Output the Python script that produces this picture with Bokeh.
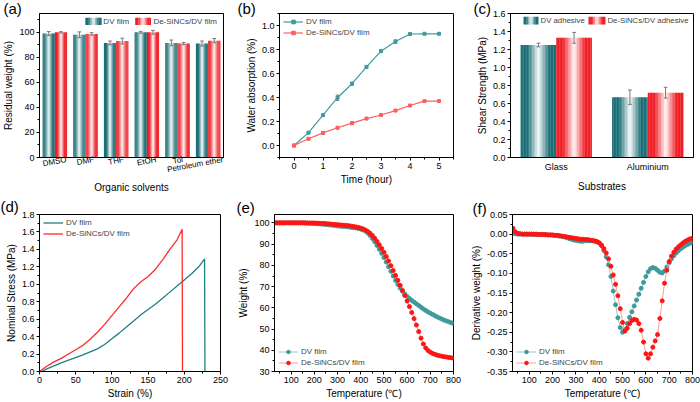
import math
from bokeh.plotting import figure
from bokeh.models import (Range1d, FixedTicker, Label, Legend, LegendItem,
                          NumeralTickFormatter)
from bokeh.layouts import row, column
from bokeh.embed import file_html
from bokeh.resources import INLINE

FONT = "Liberation Sans"

# ---------------- (a) residual weight ----------------
solvents = ["DMSO", "DMF", "THF", "EtOH", "Tol", "Petroleum ether"]
a_dv = [99.0, 98.0, 91.5, 100.0, 91.5, 91.0]
a_dv_err = [1.6, 2.3, 1.5, 0.7, 2.3, 2.0]
a_de = [100.0, 98.7, 93.0, 100.0, 91.0, 93.3]
a_de_err = [0.5, 1.0, 2.3, 1.5, 0.9, 1.7]

# ---------------- (b) water absorption ----------------
b_time = [0, 0.5, 1, 1.5, 2, 2.5, 3, 3.5, 4, 4.5, 5]
b_dv = [0.0, 0.107, 0.253, 0.398, 0.515, 0.655, 0.786, 0.866, 0.929, 0.931, 0.931]
b_dv_err = [0.0, 0.004, 0.006, 0.022, 0.012, 0.008, 0.01, 0.014, 0.004, 0.004, 0.004]
b_de = [0.0, 0.056, 0.105, 0.148, 0.186, 0.224, 0.254, 0.291, 0.333, 0.370, 0.370]
b_de_err = [0.0, 0.004, 0.012, 0.006, 0.01, 0.006, 0.005, 0.005, 0.005, 0.005, 0.005]

# ---------------- (c) shear strength ----------------
substrates = ["Glass", "Aluminium"]
c_dv = [1.25, 0.67]
c_dv_err = [0.02, 0.08]
c_de = [1.33, 0.72]
c_de_err = [0.06, 0.06]

# ---------------- (d) stress-strain ----------------
d_dv_strain = [3, 10, 20, 30, 40, 50, 60, 70, 80, 90, 100, 110, 120, 130, 140,
               150, 160, 170, 180, 190, 200, 210, 220, 228, 228.5]
d_dv_stress = [0.0, 0.03, 0.065, 0.1, 0.13, 0.16, 0.19, 0.225, 0.26, 0.31, 0.375,
               0.44, 0.51, 0.58, 0.65, 0.71, 0.77, 0.84, 0.91, 0.98, 1.05, 1.12,
               1.2, 1.29, 0.0]
d_de_strain = [0, 10, 20, 30, 40, 50, 60, 70, 80, 90, 100, 110, 120, 130, 140,
               150, 160, 170, 180, 190, 197, 197.5]
d_de_stress = [0.0, 0.06, 0.11, 0.15, 0.2, 0.25, 0.3, 0.37, 0.45, 0.54, 0.64, 0.74,
               0.84, 0.95, 1.03, 1.09, 1.17, 1.28, 1.4, 1.51, 1.63, 0.0]

# ---------------- (e) TGA / (f) DTG ----------------
temps = list(range(30, 801, 10))
e_dv = [100.0, 100.0, 100.0, 100.0, 100.0, 100.0, 100.0, 100.0, 100.0, 100.0,
        100.0, 100.0, 100.0, 99.9, 99.9, 99.9, 99.8, 99.8, 99.7, 99.6,
        99.5, 99.4, 99.3, 99.2, 99.0, 98.9, 98.8, 98.6, 98.5, 98.4,
        98.3, 98.2, 98.1, 97.9, 97.8, 97.6, 97.4, 97.1, 96.7, 96.2,
        95.3, 94.1, 92.7, 91.1, 89.4, 87.6, 85.7, 83.7, 81.6, 79.4,
        77.2, 75.0, 72.9, 71.0, 69.3, 67.8, 66.5, 65.4, 64.4, 63.5,
        62.7, 61.9, 61.1, 60.3, 59.5, 58.8, 58.1, 57.5, 56.9, 56.3,
        55.7, 55.2, 54.7, 54.2, 53.8, 53.4, 53.0, 52.6]
e_de = [100.1, 100.1, 100.1, 100.1, 100.1, 100.1, 100.1, 100.1, 100.1, 100.1,
        100.1, 100.1, 100.1, 100.1, 100.0, 100.0, 100.0, 100.0, 99.9, 99.9,
        99.8, 99.8, 99.7, 99.6, 99.5, 99.4, 99.3, 99.2, 99.1, 99.0,
        98.9, 98.8, 98.7, 98.5, 98.3, 98.1, 97.9, 97.6, 97.2, 96.7,
        96.0, 95.2, 94.1, 92.8, 91.3, 89.7, 88.0, 86.2, 84.2, 82.1,
        79.9, 77.6, 75.3, 73.0, 70.6, 68.2, 65.8, 63.2, 60.6, 57.8,
        54.9, 51.9, 48.8, 45.7, 43.0, 41.1, 39.9, 39.1, 38.5, 38.1,
        37.7, 37.4, 37.2, 37.0, 36.8, 36.6, 36.5, 36.3]
f_dv = [0.002, 0.001, 0.0, 0.0, 0.0, 0.0, 0.0, 0.0, 0.0, -0.001,
        -0.001, -0.001, -0.001, -0.001, -0.002, -0.002, -0.002, -0.003, -0.003, -0.004,
        -0.005, -0.006, -0.007, -0.009, -0.011, -0.013, -0.015, -0.016, -0.017, -0.018,
        -0.018, -0.017, -0.017, -0.017, -0.017, -0.018, -0.020, -0.023, -0.030, -0.042,
        -0.058, -0.078, -0.108, -0.145, -0.180, -0.213, -0.238, -0.250, -0.243, -0.228,
        -0.212, -0.198, -0.183, -0.168, -0.153, -0.138, -0.123, -0.108, -0.096, -0.088,
        -0.085, -0.087, -0.092, -0.097, -0.099, -0.094, -0.084, -0.073, -0.063, -0.055,
        -0.048, -0.042, -0.037, -0.033, -0.029, -0.026, -0.023, -0.021]
f_de = [0.015, 0.006, 0.002, 0.001, 0.0, 0.0, 0.0, 0.0, 0.0, 0.0,
        0.0, -0.001, -0.001, -0.001, -0.001, -0.002, -0.002, -0.002, -0.003, -0.003,
        -0.004, -0.005, -0.006, -0.007, -0.008, -0.009, -0.010, -0.011, -0.012, -0.013,
        -0.013, -0.014, -0.014, -0.015, -0.016, -0.017, -0.019, -0.022, -0.028, -0.037,
        -0.048, -0.063, -0.082, -0.104, -0.128, -0.157, -0.190, -0.225, -0.247, -0.240,
        -0.228, -0.220, -0.217, -0.219, -0.228, -0.245, -0.275, -0.305, -0.316, -0.305,
        -0.288, -0.272, -0.256, -0.215, -0.170, -0.125, -0.092, -0.070, -0.056, -0.046,
        -0.038, -0.032, -0.027, -0.022, -0.018, -0.015, -0.012, -0.011]

# ---------------- colours ----------------
BAR_TEAL = "#1c6f76"
BAR_RED = "#ee1f26"
ERR = "#777777"
LINE_TEAL = "#3c9c9f"
LINE_RED = "#ff5e5e"
D_TEAL = "#1f7f86"
D_RED = "#ff2b2b"
M_TEAL = "#3f9a9b"
L_TEAL = "#8fcaca"
M_RED = "#ff1414"
L_RED = "#ff9c9c"

TOP1, BOT1 = 11, 33      # top row borders
TOP2, BOT2 = 19, 31      # bottom row borders

# approximate Arial / Liberation Sans advance widths (em/1000) for label layout
_W = {"D": 722, "M": 833, "S": 667, "O": 778, "F": 611, "T": 611, "H": 722,
      "E": 667, "t": 278, "o": 556, "l": 222, "P": 667, "e": 556, "r": 333,
      "u": 556, "m": 833, " ": 278, "h": 556}


def text_w(s, size):
    return sum(_W.get(c, 556) for c in s) / 1000.0 * size


def mix(hexc, t):
    r, g, b = int(hexc[1:3], 16), int(hexc[3:5], 16), int(hexc[5:7], 16)
    return "#%02x%02x%02x" % (round(255 + (r - 255) * t),
                              round(255 + (g - 255) * t),
                              round(255 + (b - 255) * t))


def grad_t(u):
    d = abs(2 * u - 1)
    return min(1.0, d / 0.62) ** 0.9


def grad_quads(p, lefts, rights, bottoms, tops, base, n):
    L, R, B, T, C = [], [], [], [], []
    for l, r, b, t in zip(lefts, rights, bottoms, tops):
        w = (r - l) / n
        for k in range(n):
            x0 = l + k * w
            L.append(x0)
            R.append(min(r, x0 + w * 1.15))
            B.append(b)
            T.append(t)
            C.append(mix(base, grad_t((k + 0.5) / n)))
    p.quad(left=L, right=R, bottom=B, top=T, fill_color=C, line_color=None)


def fr(rng, f):
    return rng.start + f * (rng.end - rng.start)


def mkfig(w, h, xr, yr, bl, bt, br, bb):
    p = figure(width=w, height=h, x_range=Range1d(*xr), y_range=Range1d(*yr),
               output_backend="svg", toolbar_location=None,
               min_border_left=bl, min_border_top=bt, min_border_right=br,
               min_border_bottom=bb)
    p.outline_line_color = "black"
    p.outline_line_width = 1
    p.outline_line_alpha = 1
    p.grid.visible = False
    p.background_fill_color = "white"
    p.border_fill_color = "white"
    for ax in (p.xaxis[0], p.yaxis[0]):
        ax.axis_label_text_font = FONT
        ax.axis_label_text_font_style = "normal"
        ax.axis_label_text_font_size = "10px"
        ax.axis_label_text_color = "black"
        ax.major_label_text_font = FONT
        ax.major_label_text_font_size = "9px"
        ax.major_label_text_color = "black"
        ax.major_tick_in = 0
        ax.major_tick_out = 3
        ax.minor_tick_in = 0
        ax.minor_tick_out = 2
        ax.axis_label_standoff = 2
        ax.major_label_standoff = 2
        ax.axis_line_color = "black"
    return p


def letter(p, txt, offset, standoff):
    t = p.title
    t.text = txt
    t.align = "left"
    t.offset = offset
    t.standoff = standoff
    t.vertical_align = "bottom"
    t.text_font = FONT
    t.text_font_size = "15px"
    t.text_font_style = "normal"
    t.text_color = "black"


def txt(p, s, fx, fy, size="8px"):
    p.add_layout(Label(x=fr(p.x_range, fx), y=fr(p.y_range, fy), text=s,
                       text_font=FONT, text_font_size=size,
                       text_baseline="middle", text_align="left"))


def errbars(p, xs, ys, es, cap):
    lo = [y - e for y, e in zip(ys, es)]
    hi = [y + e for y, e in zip(ys, es)]
    p.segment(x0=xs, y0=lo, x1=xs, y1=hi, line_color=ERR, line_width=1)
    xl = [x - cap for x in xs]
    xr = [x + cap for x in xs]
    p.segment(x0=xl, y0=hi, x1=xr, y1=hi, line_color=ERR, line_width=1)
    p.segment(x0=xl, y0=lo, x1=xr, y1=lo, line_color=ERR, line_width=1)


def style_legend(leg, loc):
    leg.location = loc
    leg.border_line_color = None
    leg.background_fill_alpha = 0
    leg.label_text_font = FONT
    leg.label_text_font_size = "8px"
    leg.glyph_width = 20
    leg.glyph_height = 9
    leg.label_height = 9
    leg.spacing = 2
    leg.padding = 2
    leg.margin = 4
    leg.label_standoff = 3


# ================= panel (a) =================
WA, HA, LA, RA = 233, 195, 36, 10
pa = mkfig(WA, HA, (0.5, 6.5), (0, 115), LA, TOP1, RA, BOT1)
pa.xaxis.axis_label = "Organic solvents"
pa.yaxis.axis_label = "Residual weight (%)"
pos_a = list(range(1, len(solvents) + 1))
# rotated labels are anchored at their right end: shift each anchor so that
# the label's centre sits under its pair of bars (kept inside the frame)
ANG, CAT_FS = 0.18, 8.0
px_per_unit = (WA - LA - RA) / (pa.x_range.end - pa.x_range.start)
tick_a = [round(min(pa.x_range.end - 0.01,
                    k + text_w(s, CAT_FS) / 2 * math.cos(ANG) / px_per_unit), 4)
          for k, s in zip(pos_a, solvents)]
pa.xaxis.ticker = FixedTicker(ticks=tick_a)
pa.xaxis.major_label_overrides = {t: s for t, s in zip(tick_a, solvents)}
pa.xaxis.major_label_orientation = ANG
pa.xaxis.major_label_text_font_size = "%.1fpx" % CAT_FS
pa.xaxis.major_tick_out = 0
pa.xaxis.minor_tick_out = 0
pa.xaxis.major_label_standoff = 2
pa.xaxis.axis_label_standoff = 0
pa.yaxis.ticker = FixedTicker(ticks=[0, 20, 40, 60, 80, 100],
                              minor_ticks=[10, 30, 50, 70, 90, 110])
bw = 0.4
xa_dv = [x - bw / 2 for x in pos_a]
xa_de = [x + bw / 2 for x in pos_a]
grad_quads(pa, [x - bw / 2 for x in xa_dv], [x + bw / 2 for x in xa_dv],
           [0] * 6, a_dv, BAR_TEAL, 12)
grad_quads(pa, [x - bw / 2 for x in xa_de], [x + bw / 2 for x in xa_de],
           [0] * 6, a_de, BAR_RED, 12)
errbars(pa, xa_dv, a_dv, a_dv_err, 0.06)
errbars(pa, xa_de, a_de, a_de_err, 0.06)
grad_quads(pa, [fr(pa.x_range, 0.249)], [fr(pa.x_range, 0.338)],
           [fr(pa.y_range, 0.921)], [fr(pa.y_range, 0.971)], BAR_TEAL, 10)
grad_quads(pa, [fr(pa.x_range, 0.52)], [fr(pa.x_range, 0.606)],
           [fr(pa.y_range, 0.921)], [fr(pa.y_range, 0.971)], BAR_RED, 10)
txt(pa, "DV film", 0.347, 0.946)
txt(pa, "De-SiNCs/DV film", 0.619, 0.946)
letter(pa, "(a)", -36, -6)

# ================= panel (b) =================
pb = mkfig(230, 195, (-0.5, 5.5), (-0.1, 1.1), 46, TOP1, 10, BOT1)
pb.xaxis.axis_label = "Time (hour)"
pb.yaxis.axis_label = "Water absorption (%)"
pb.xaxis.ticker = FixedTicker(ticks=[0, 1, 2, 3, 4, 5],
                              minor_ticks=[-0.5, 0.5, 1.5, 2.5, 3.5, 4.5, 5.5])
pb.yaxis.ticker = FixedTicker(ticks=[0, 0.2, 0.4, 0.6, 0.8, 1.0],
                              minor_ticks=[-0.1, 0.1, 0.3, 0.5, 0.7, 0.9, 1.1])
pb.yaxis.formatter = NumeralTickFormatter(format="0.0")
errbars(pb, b_time, b_dv, b_dv_err, 0.06)
errbars(pb, b_time, b_de, b_de_err, 0.06)
lb1 = pb.line(b_time, b_dv, line_color=LINE_TEAL, line_width=1.2)
sb1 = pb.scatter(b_time, b_dv, marker="square", size=3, color=LINE_TEAL)
lb2 = pb.line(b_time, b_de, line_color=LINE_RED, line_width=1.2)
sb2 = pb.scatter(b_time, b_de, marker="square", size=3, color=LINE_RED)
legb = Legend(items=[LegendItem(label="DV film", renderers=[lb1, sb1]),
                     LegendItem(label="De-SiNCs/DV film", renderers=[lb2, sb2])])
style_legend(legb, "top_left")
pb.add_layout(legb)
letter(pb, "(b)", -42, -6)

# ================= panel (c) =================
pc = mkfig(237, 195, (0.5, 2.5), (0, 1.6), 47, TOP1, 7, BOT1)
pc.xaxis.axis_label = "Substrates"
pc.yaxis.axis_label = "Shear Strength (MPa)"
pos_c = list(range(1, len(substrates) + 1))
pc.xaxis.ticker = FixedTicker(ticks=pos_c)
pc.xaxis.major_label_overrides = {k: s for k, s in zip(pos_c, substrates)}
pc.xaxis.major_tick_out = 0
pc.xaxis.major_label_standoff = 4
pc.xaxis.axis_label_standoff = 6
pc.yaxis.ticker = FixedTicker(ticks=[0, 0.2, 0.4, 0.6, 0.8, 1.0, 1.2, 1.4, 1.6],
                              minor_ticks=[0.1, 0.3, 0.5, 0.7, 0.9, 1.1, 1.3, 1.5])
pc.yaxis.formatter = NumeralTickFormatter(format="0.0")
cw = 0.39
xc_dv = [x - cw / 2 for x in pos_c]
xc_de = [x + cw / 2 for x in pos_c]
grad_quads(pc, [x - cw / 2 for x in xc_dv], [x + cw / 2 for x in xc_dv],
           [0] * 2, c_dv, BAR_TEAL, 24)
grad_quads(pc, [x - cw / 2 for x in xc_de], [x + cw / 2 for x in xc_de],
           [0] * 2, c_de, BAR_RED, 24)
errbars(pc, xc_dv, c_dv, c_dv_err, 0.02)
errbars(pc, xc_de, c_de, c_de_err, 0.02)
grad_quads(pc, [fr(pc.x_range, 0.071)], [fr(pc.x_range, 0.153)],
           [fr(pc.y_range, 0.924)], [fr(pc.y_range, 0.978)], BAR_TEAL, 10)
grad_quads(pc, [fr(pc.x_range, 0.426)], [fr(pc.x_range, 0.519)],
           [fr(pc.y_range, 0.924)], [fr(pc.y_range, 0.978)], BAR_RED, 10)
txt(pc, "DV adhesive", 0.164, 0.951, "7.8px")
txt(pc, "De-SiNCs/DV adhesive", 0.530, 0.951, "7.8px")
letter(pc, "(c)", -37, -6)

# ================= panel (d) =================
pd_ = mkfig(233, 207, (0, 250), (0, 1.8), 39, TOP2, 13, BOT2)
pd_.xaxis.axis_label = "Strain (%)"
pd_.yaxis.axis_label = "Nominal Stress (MPa)"
pd_.xaxis.ticker = FixedTicker(ticks=[0, 50, 100, 150, 200, 250],
                               minor_ticks=[25, 75, 125, 175, 225])
pd_.yaxis.ticker = FixedTicker(ticks=[0, 0.2, 0.4, 0.6, 0.8, 1.0, 1.2, 1.4, 1.6, 1.8],
                               minor_ticks=[0.1, 0.3, 0.5, 0.7, 0.9, 1.1, 1.3, 1.5, 1.7])
pd_.yaxis.formatter = NumeralTickFormatter(format="0.0")
ld1 = pd_.line(d_dv_strain, d_dv_stress, line_color=D_TEAL, line_width=1.3)
ld2 = pd_.line(d_de_strain, d_de_stress, line_color=D_RED, line_width=1.3)
legd = Legend(items=[LegendItem(label="DV film", renderers=[ld1]),
                     LegendItem(label="De-SiNCs/DV film", renderers=[ld2])])
style_legend(legd, "top_left")
pd_.add_layout(legd)
letter(pd_, "(d)", -39, 0)

# ================= panel (e) =================
pe = mkfig(230, 207, (28, 800), (30, 104), 41, TOP2, 10, BOT2)
pe.xaxis.axis_label = "Temperature (\u2103)"
pe.yaxis.axis_label = "Weight (%)"
pe.xaxis.ticker = FixedTicker(ticks=[100, 200, 300, 400, 500, 600, 700, 800],
                              minor_ticks=[50, 150, 250, 350, 450, 550, 650, 750])
pe.yaxis.ticker = FixedTicker(ticks=[30, 40, 50, 60, 70, 80, 90, 100],
                              minor_ticks=[35, 45, 55, 65, 75, 85, 95])
le1 = pe.line(temps, e_dv, line_color=L_TEAL, line_width=1)
se1 = pe.scatter(temps, e_dv, marker="circle", size=4, color=M_TEAL)
le2 = pe.line(temps, e_de, line_color=L_RED, line_width=1)
se2 = pe.scatter(temps, e_de, marker="circle", size=4, color=M_RED)
lege = Legend(items=[LegendItem(label="DV film", renderers=[le1, se1]),
                     LegendItem(label="De-SiNCs/DV film", renderers=[le2, se2])])
style_legend(lege, "bottom_left")
pe.add_layout(lege)
letter(pe, "(e)", -38, -3)

# ================= panel (f) =================
pf = mkfig(237, 207, (28, 800), (-0.35, 0.05), 49, TOP2, 8, BOT2)
pf.xaxis.axis_label = "Temperature (\u2103)"
pf.yaxis.axis_label = "Derivative weight (%)"
pf.xaxis.ticker = FixedTicker(ticks=[100, 200, 300, 400, 500, 600, 700, 800],
                              minor_ticks=[50, 150, 250, 350, 450, 550, 650, 750])
pf.yaxis.ticker = FixedTicker(ticks=[-0.35, -0.3, -0.25, -0.2, -0.15, -0.1, -0.05, 0.0, 0.05],
                              minor_ticks=[-0.325, -0.275, -0.225, -0.175, -0.125,
                                           -0.075, -0.025, 0.025])
pf.yaxis.formatter = NumeralTickFormatter(format="0.00")
lf1 = pf.line(temps, f_dv, line_color=L_TEAL, line_width=1)
sf1 = pf.scatter(temps, f_dv, marker="circle", size=4, color=M_TEAL)
lf2 = pf.line(temps, f_de, line_color=L_RED, line_width=1)
sf2 = pf.scatter(temps, f_de, marker="circle", size=4, color=M_RED)
legf = Legend(items=[LegendItem(label="DV film", renderers=[lf1, sf1]),
                     LegendItem(label="De-SiNCs/DV film", renderers=[lf2, sf2])])
style_legend(legf, "bottom_left")
pf.add_layout(legf)
letter(pf, "(f)", -40, -5)

layout = column(row(pa, pb, pc), row(pd_, pe, pf))
open("out.html", "w").write(file_html(layout, INLINE))
